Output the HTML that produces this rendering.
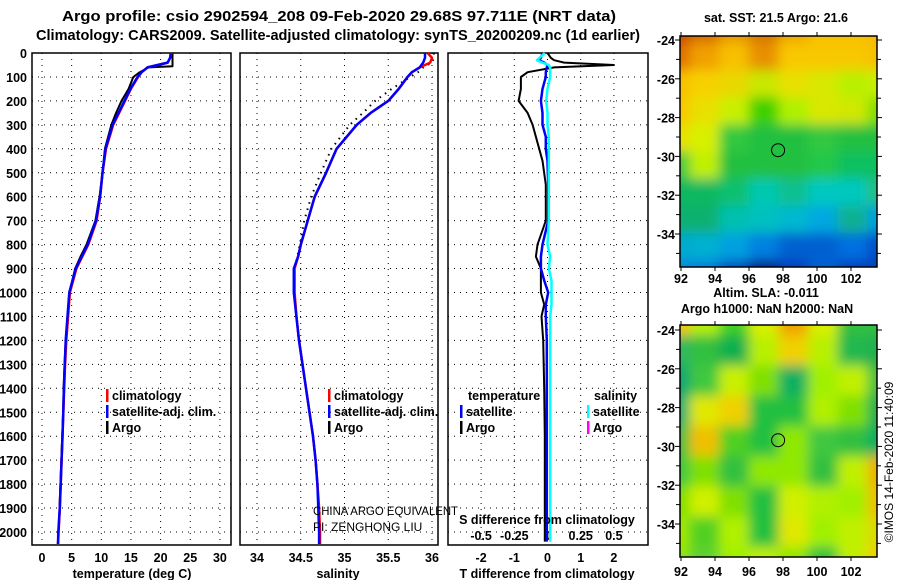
<!DOCTYPE html>
<html><head><meta charset="utf-8"><style>
html,body{margin:0;padding:0;background:#fff;}
svg{display:block;font-family:"Liberation Sans",sans-serif;font-weight:bold;}
</style></head><body>
<svg id="fig" width="900" height="580" viewBox="0 0 900 580" xmlns="http://www.w3.org/2000/svg">
<defs>
<filter id="blur" x="0" y="0" width="1" height="1"><feGaussianBlur stdDeviation="6"/></filter>
<clipPath id="clipTop"><rect x="680" y="36" width="197" height="231"/></clipPath>
<clipPath id="clipBot"><rect x="680" y="325" width="197" height="232"/></clipPath>
</defs>
<text x="62" y="21" font-size="15" textLength="554" lengthAdjust="spacingAndGlyphs">Argo profile: csio 2902594_208 09-Feb-2020 29.68S 97.711E (NRT data)</text>
<text x="36" y="40" font-size="15" textLength="604" lengthAdjust="spacingAndGlyphs">Climatology: CARS2009. Satellite-adjusted climatology: synTS_20200209.nc (1d earlier)</text>
<g id="g"></g>
</svg>
<script>
// ---- data ----
const depthTicks = [0,100,200,300,400,500,600,700,800,900,1000,1100,1200,1300,1400,1500,1600,1700,1800,1900,2000];
const tempTicks = [0,5,10,15,20,25,30];
const salTicks = [34,34.5,35,35.5,36];
const tdiffTicks = [-2,-1,0,1,2];
const sdiffTicks = [-0.5,-0.25,0,0.25,0.5];

const profDepth = [0,20,40,60,80,100,150,200,250,300,400,500,600,700,800,850,900,1000,1100,1200,1300,1400,1500,1600,1700,1800,1900,2000,2050];
const tempClim  = [21.8,21.6,21.2,17.8,16.8,16.2,15.0,14.0,13.0,12.0,10.8,10.2,9.8,9.2,7.8,6.8,5.8,4.7,4.4,4.1,3.9,3.75,3.6,3.45,3.3,3.15,3.0,2.8,2.7];
const tempSat   = [21.7,21.6,21.2,17.8,16.8,16.1,14.9,13.9,12.9,11.9,10.7,10.2,9.8,9.1,7.7,6.7,5.7,4.6,4.3,4.0,3.85,3.7,3.6,3.45,3.3,3.15,3.0,2.75,2.7];
const argoDepth = [0,20,40,55,60,80,100,150,200,250,300,400,500,600,700,800,850,900,1000,1100,1200,1300,1400,1500,1600,1700,1800,1900,1950];
const tempArgo  = [22.0,22.0,22.0,22.0,18.0,16.5,15.4,14.6,13.4,12.5,11.7,10.6,10.2,9.7,9.0,7.5,6.5,5.6,4.6,4.3,4.0,3.8,3.65,3.55,3.4,3.25,3.1,2.95,2.9];
const salClim   = [35.95,36.0,35.98,35.86,35.77,35.72,35.62,35.5,35.3,35.14,34.91,34.79,34.66,34.58,34.5,34.47,34.43,34.43,34.45,34.48,34.52,34.56,34.6,34.64,34.67,34.69,34.71,34.72,34.72];
const salSat    = [35.92,35.92,35.9,35.86,35.77,35.72,35.62,35.5,35.3,35.14,34.91,34.79,34.66,34.58,34.5,34.47,34.42,34.42,34.45,34.48,34.52,34.56,34.6,34.64,34.67,34.69,34.7,34.71,34.71];
const salArgo   = [36.02,36.02,36.0,35.9,35.84,35.75,35.54,35.35,35.21,35.06,34.85,34.73,34.62,34.54,34.49,34.46,34.43,34.43,34.45,34.48,34.52,34.56,34.6,34.64,34.67,34.69,34.7,34.71,34.71];
const diffDepth = [0,20,30,40,50,60,80,100,150,200,250,300,350,400,450,550,700,800,850,900,950,1000,1050,1100,1200,1400,1600,1800,2000,2040];
const tdiffArgo = [0,0.1,0.2,0.5,2.0,0.2,-0.6,-0.8,-0.8,-0.87,-0.6,-0.45,-0.35,-0.25,-0.15,-0.05,-0.05,-0.3,-0.35,-0.2,-0.2,-0.2,-0.1,-0.18,-0.13,-0.1,-0.08,-0.08,-0.08,-0.08];
const tdiffSat  = [-0.15,-0.2,-0.25,-0.1,0,-0.02,-0.05,-0.05,-0.15,-0.2,-0.15,-0.15,-0.05,-0.05,0,0.02,0.02,-0.15,-0.2,-0.2,-0.1,0.02,-0.05,-0.05,-0.02,-0.02,-0.02,-0.02,-0.02,-0.02];
const sdiffSat  = [-0.02,-0.06,-0.08,-0.04,0.01,0.02,0.02,0.02,0.0,-0.01,0.0,0.0,0.01,0.01,0.01,0.01,0.01,0.0,0.02,0.01,0.03,0.03,0.03,0.02,0.02,0.02,0.02,0.02,0.02,0.02];

const latTicks = [-24,-26,-28,-30,-32,-34];
const lonTicks = [92,94,96,98,100,102];
const argoLon = 97.711, argoLat = -29.68;
const sstGrid = [
["#c84a00","#d86a00","#e89a00","#d87800","#f0a800","#f8c000","#f8c000","#f8b800"],
["#e07000","#f0a000","#f8c000","#e89000","#f8c800","#f8c800","#f8c800","#f8c000"],
["#f8c000","#f8d000","#e8d800","#c8e800","#e8e000","#d8e800","#b8f000","#c8f000"],
["#f8c800","#e8e000","#c8f000","#40d000","#b0f000","#d8e800","#d0e800","#80e000"],
["#e8e000","#d8f000","#30c840","#20c040","#20c040","#30c840","#20c040","#20c040"],
["#40c840","#c0f000","#20c040","#20c040","#20c040","#20c848","#10c060","#10c060"],
["#10b860","#10b860","#10c070","#00c8b0","#10c090","#00c8c0","#00c8c0","#20c080"],
["#10b070","#10b070","#00c0b0","#00c0c0","#00b8d0","#00a8e0","#10b090","#00a0e0"],
["#00a8d0","#00b0d0","#00a0e0","#0080e0","#0060d0","#0060d0","#0070e0","#0050c8"],
["#0090d8","#0080e0","#0050c0","#001890","#0040c0","#0060d0","#0040c0","#0040c0"]];
const slaGrid = [
["#f8c000","#b8f000","#40d020","#d8f000","#f0a000","#d8f000","#30c040","#30c040"],
["#30b860","#30c040","#10b050","#b8f000","#f0d000","#b8f000","#20b850","#20b050"],
["#10a870","#40c840","#c8f000","#80e000","#10b060","#a0f000","#c0f000","#40c040"],
["#10b070","#e0e800","#f0d000","#20c040","#20c040","#b0f000","#80e000","#20b050"],
["#40c040","#f0c000","#50d020","#20c040","#90e800","#40c840","#30c040","#10b060"],
["#40c840","#80e000","#30c040","#90e800","#90e800","#30c040","#c0f000","#f0b000"],
["#80e000","#d0f000","#80e000","#20c040","#d0f000","#b0f000","#a0f000","#f0c000"],
["#a0e800","#50d020","#b0f000","#20c040","#e0e800","#a0f000","#c0f000","#e0d800"],
["#90e800","#60d030","#a0f000","#c0f000","#90e800","#30c040","#c0f000","#f0d000"]];

// ---- drawing ----
const NS="http://www.w3.org/2000/svg";
const G=document.getElementById('g');
function mk(tag,attrs,parent,text){const e=document.createElementNS(NS,tag);for(const k in attrs)e.setAttribute(k,attrs[k]);if(text!==undefined)e.textContent=text;(parent||G).appendChild(e);return e;}
const PT=53, PB=545;
const yD = d => 53 + d*0.2395;
const xT = t => 42 + t*5.93;
const xS = s => 257 + (s-34)*87.5;
const xTD = d => 547.5 + d*33.2;
const xSD = d => 547.5 + d*132.8;

function panel(x0,x1,name){
  const r=mk('rect',{x:x0,y:PT,width:x1-x0,height:PB-PT,fill:'#fff',stroke:'#000','stroke-width':1.5});
  
  
  depthTicks.forEach(d=>{ if(d===0)return;
    const l=mk('line',{x1:x0,x2:x1,y1:yD(d),y2:yD(d),stroke:'#000','stroke-width':1,'stroke-dasharray':'1,5'});
    
    
  });
}
function vgrid(xs,name){
  xs.forEach(x=>{const l=mk('line',{x1:x,x2:x,y1:PT,y2:PB,stroke:'#000','stroke-width':1,'stroke-dasharray':'1,5'});
    
    });
}
function line(xs,ys,color,w,name,dash){
  const pts=xs.map((x,i)=>x.toFixed(1)+','+ys[i].toFixed(1)).join(' ');
  const a={points:pts,fill:'none',stroke:color,'stroke-width':w,'stroke-linejoin':'round'};
  if(dash)a['stroke-dasharray']=dash;
  const p=mk('polyline',a);
  
  
}
function txt(x,y,s,opts,name){
  const a=Object.assign({x:x,y:y,'font-size':12.5},opts||{});
  const t=mk('text',a,G,s);
  
  
  return t;
}

// panel 1 temperature
panel(32,231,'temperature-panel');
vgrid(tempTicks.map(xT),'temperature-gridline');
depthTicks.forEach(d=>txt(27,yD(d)+5,String(d),{'text-anchor':'end'},'depth-tick-label'));
tempTicks.forEach(t=>txt(xT(t),562,String(t),{'text-anchor':'middle'},'temperature-tick-label'));
txt(132,578,'temperature (deg C)',{'text-anchor':'middle'},'temperature-axis-title');
line(argoDepth.map((d,i)=>xT(tempArgo[i])),argoDepth.map(yD),'#000',2,'temp-argo-line');
line(profDepth.map((d,i)=>xT(tempClim[i])),profDepth.map(yD),'#f00',2.5,'temp-climatology-line');
line(profDepth.map((d,i)=>xT(tempSat[i])),profDepth.map(yD),'#00f',2.5,'temp-satellite-line');

// panel 2 salinity
panel(240,438,'salinity-panel');
vgrid(salTicks.map(xS),'salinity-gridline');
salTicks.forEach(s=>txt(xS(s),562,String(s),{'text-anchor':'middle'},'salinity-tick-label'));
txt(338,578,'salinity',{'text-anchor':'middle'},'salinity-axis-title');
line(profDepth.map((d,i)=>xS(salArgo[i])),profDepth.map(yD),'#000',2,'sal-argo-line','1.5,5');
line(profDepth.map((d,i)=>xS(salClim[i])),profDepth.map(yD),'#f00',2.5,'sal-climatology-line');
line(profDepth.map((d,i)=>xS(salSat[i])),profDepth.map(yD),'#00f',2.5,'sal-satellite-line');

// panel 3 differences
panel(448,648,'difference-panel');
vgrid(tdiffTicks.map(xTD),'tdiff-gridline');
tdiffTicks.forEach(t=>txt(xTD(t),562,String(t),{'text-anchor':'middle'},'tdiff-tick-label'));
sdiffTicks.forEach(s=>txt(xSD(s),540,String(s),{'text-anchor':'middle'},'sdiff-tick-label'));
txt(547,578,'T difference from climatology',{'text-anchor':'middle'},'tdiff-axis-title');
line(diffDepth.map((d,i)=>xTD(tdiffArgo[i])),diffDepth.map(yD),'#000',2,'tdiff-argo-line');
line(diffDepth.map((d,i)=>xTD(tdiffSat[i])),diffDepth.map(yD),'#00f',2.5,'tdiff-satellite-line');
line(diffDepth.map((d,i)=>xSD(sdiffSat[i])),diffDepth.map(yD),'#0ff',2.5,'sdiff-satellite-line');
txt(313,515,'CHINA ARGO EQUIVALENT',{'font-weight':'normal','font-size':12,textLength:145,lengthAdjust:'spacingAndGlyphs'},'credit-line-1');
txt(313,531,'PI: ZENGHONG LIU',{'font-weight':'normal','font-size':12},'credit-line-2');
txt(547,524,'S difference from climatology',{'text-anchor':'middle'},'sdiff-axis-title');

// legends
function leg(x,y,color,label,name){
  const r=mk('rect',{x:x,y:y-11,width:2.5,height:13,fill:color});
  
  
  txt(x+6,y,label,{},name);
}
leg(106,400,'#f00','climatology','legend-t-climatology');
leg(106,416,'#00f','satellite-adj. clim.','legend-t-satellite');
leg(106,432,'#000','Argo','legend-t-argo');
leg(328,400,'#f00','climatology','legend-s-climatology');
leg(328,416,'#00f','satellite-adj. clim.','legend-s-satellite');
leg(328,432,'#000','Argo','legend-s-argo');
txt(468,400,'temperature',{},'legend-temperature-header');
leg(460,416,'#00f','satellite','legend-tdiff-satellite');
leg(460,432,'#000','Argo','legend-tdiff-argo');
txt(594,400,'salinity',{},'legend-salinity-header');
leg(587,416,'#0ff','satellite','legend-sdiff-satellite');
leg(587,432,'#f0f','Argo','legend-sdiff-argo');

// maps
function map(y0,y1,grid,clip,name,lat0y,lat34y,lonY){
  const x0=680,x1=877;
  const g=mk('g',{'clip-path':'url(#'+clip+')'});
  
  
  const inner=mk('g',{filter:'url(#blur)'},g);
  const rows=grid.length, cols=grid[0].length;
  const cw=(x1-x0+40)/cols, ch=(y1-y0+40)/rows;
  grid.forEach((row,r)=>row.forEach((c,k)=>{
    const cell=mk('rect',{x:x0-20+k*cw,y:y0-20+r*ch,width:cw+1,height:ch+1,fill:c},inner);
    
    
  }));
  const f=mk('rect',{x:x0,y:y0,width:x1-x0,height:y1-y0,fill:'none',stroke:'#000','stroke-width':1.5});
  
  
  const ly=lat=>lat0y+(lat+24)*(lat34y-lat0y)/(-10);
  const lx=lon=>681+(lon-92)*17;
  latTicks.forEach(lat=>{
    const y=ly(lat);
    mk('line',{x1:x0-5,x2:x0,y1:y,y2:y,stroke:'#000'});
    mk('line',{x1:x1,x2:x1+5,y1:y,y2:y,stroke:'#000'});
    txt(675,y+5,String(lat),{'text-anchor':'end'},'latitude-tick-label');
  });
  [-25,-27,-29,-31,-33,-35].forEach(lat=>{const y=ly(lat);mk('line',{x1:x0-4,x2:x0,y1:y,y2:y,stroke:'#000'});mk('line',{x1:x1,x2:x1+4,y1:y,y2:y,stroke:'#000'});});
  lonTicks.forEach(lon=>{
    const x=lx(lon);
    mk('line',{x1:x,x2:x,y1:y0-4,y2:y0,stroke:'#000'});
    mk('line',{x1:x,x2:x,y1:y1,y2:y1+4,stroke:'#000'});
    txt(x,lonY,String(lon),{'text-anchor':'middle'},'longitude-tick-label');
  });
  const c=mk('circle',{cx:lx(argoLon),cy:ly(argoLat),r:6.5,fill:'none',stroke:'#000','stroke-width':1});
  
  
}
map(36,267,sstGrid,'clipTop','sst-map',40,234,283);
map(325,557,slaGrid,'clipBot','sla-map',330,524,576);
txt(776,22,'sat. SST: 21.5 Argo: 21.6',{'text-anchor':'middle'},'sst-map-title');
txt(766,297,'Altim. SLA: -0.011',{'text-anchor':'middle'},'sla-value-label');
txt(767,313,'Argo h1000: NaN h2000: NaN',{'text-anchor':'middle'},'sla-map-title');
txt(0,0,'©IMOS 14-Feb-2020 11:40:09',{'font-weight':'normal','font-size':12,'text-anchor':'middle',transform:'translate(893,462) rotate(-90)'},'imos-credit');
</script>
</body></html>
